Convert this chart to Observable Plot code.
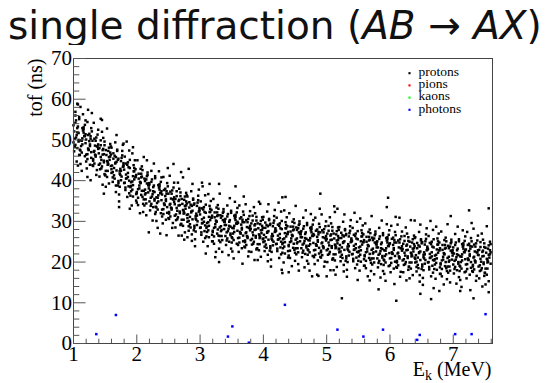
<!DOCTYPE html>
<html><head><meta charset="utf-8">
<script src="https://cdn.jsdelivr.net/npm/d3@7"></script>
<script src="https://cdn.jsdelivr.net/npm/@observablehq/plot@0.6"></script>
<style>
body{margin:0;background:#fff;}
#wrap{position:relative;width:550px;height:383px;overflow:hidden;background:#fff;}
#title{position:absolute;left:0;top:0;width:550px;height:45px;}
#tt{position:absolute;left:8px;top:2px;font-family:"DejaVu Sans",sans-serif;font-size:38px;line-height:normal;color:#111;white-space:nowrap;}
#tt i{font-style:italic;}
#chart{position:absolute;left:0;top:45px;}
</style></head>
<body><div id="wrap"><div id="title"><span id="tt"></span></div><div id="chart"></div></div>
<script>
// ---- text ----
const titleParts = ["single diffraction (", "AB", " \u2192 ", "AX", ")"];
const yTitle = "tof (ns)";
const xTitleMain = "E", xTitleSub = "k", xTitleUnit = " (MeV)";
const legendLabels = ["protons", "pions", "kaons", "photons"];
const legendColors = ["#000000", "#ff0000", "#00ff00", "#0000ff"];
const xTickLabels = [1, 2, 3, 4, 5, 6, 7];
const yTickLabels = [0, 10, 20, 30, 40, 50, 60, 70];
const xDomain = [1, 7.62];
const yDomain = [0, 70];

// ---- data: [E_k (MeV), tof (ns)] ----
const protons = [
[1.00,53.6],[1.01,47.2],[1.01,52.1],[1.02,50.3],[1.03,56.9],[1.03,48.8],[1.04,54.8],[1.05,51.2],[1.05,44.7],[1.06,52.9],[1.06,48.0],[1.07,58.7],[1.08,49.6],[1.08,51.7],[1.09,55.6],[1.09,46.3],
[1.19,49.2],[1.18,53.7],[1.10,47.6],[1.17,51.0],[1.11,44.1],[1.16,52.6],[1.12,48.5],[1.15,56.3],[1.13,46.9],[1.14,50.4],[1.19,54.8],[1.13,42.4],[1.16,51.8],[1.11,49.9],[1.18,46.0],[1.14,52.9],
[1.25,49.7],[1.22,46.5],[1.28,52.9],[1.20,44.7],[1.26,48.5],[1.24,47.5],[1.29,56.6],[1.21,43.0],[1.27,50.9],[1.23,47.9],[1.25,51.5],[1.28,45.6],[1.22,54.4],[1.26,43.9],[1.20,50.1],[1.27,40.1],
[1.33,44.2],[1.37,48.4],[1.35,45.9],[1.39,52.5],[1.32,47.1],[1.30,49.8],[1.36,41.4],[1.38,51.3],[1.31,45.3],[1.34,48.6],[1.37,42.6],[1.32,54.2],[1.39,47.8],[1.35,46.2],[1.33,50.3],[1.31,43.6],
[1.40,46.7],[1.41,41.0],[1.41,48.0],[1.42,44.2],[1.43,49.9],[1.43,45.8],[1.44,43.0],[1.45,52.0],[1.45,43.5],[1.46,47.5],[1.46,39.0],[1.47,50.5],[1.48,44.9],[1.48,46.5],[1.49,41.6],[1.49,48.7],
[1.59,43.6],[1.58,49.0],[1.50,41.4],[1.57,45.1],[1.51,47.5],[1.56,39.3],[1.52,46.3],[1.55,44.1],[1.53,52.8],[1.54,42.4],[1.59,48.4],[1.53,40.9],[1.56,45.8],[1.51,38.5],[1.58,46.9],[1.54,44.5],
[1.65,46.1],[1.62,39.7],[1.68,44.6],[1.60,42.8],[1.66,49.4],[1.64,41.3],[1.69,47.3],[1.61,43.7],[1.67,37.2],[1.63,45.4],[1.65,40.5],[1.68,51.2],[1.62,42.1],[1.66,44.2],[1.60,48.1],[1.67,38.8],
[1.73,41.7],[1.77,46.2],[1.75,40.1],[1.79,43.5],[1.72,36.6],[1.70,45.1],[1.76,41.0],[1.78,48.8],[1.71,39.4],[1.74,42.9],[1.77,47.3],[1.72,34.9],[1.79,44.3],[1.75,42.4],[1.73,38.5],[1.71,45.4],
[1.80,42.7],[1.81,39.5],[1.81,45.9],[1.82,37.7],[1.83,41.5],[1.83,40.5],[1.84,49.6],[1.85,36.0],[1.85,43.9],[1.86,40.9],[1.86,44.5],[1.87,38.6],[1.88,47.4],[1.88,36.9],[1.89,43.1],[1.89,33.1],
[1.99,36.7],[1.98,40.9],[1.90,38.4],[1.97,45.0],[1.91,39.6],[1.96,42.3],[1.92,33.9],[1.95,43.8],[1.93,37.8],[1.94,41.1],[1.99,35.1],[1.93,46.7],[1.96,40.3],[1.91,38.7],[1.98,42.8],[1.94,36.1],
[2.05,39.7],[2.02,34.0],[2.08,41.0],[2.00,37.2],[2.06,42.9],[2.04,38.8],[2.09,36.0],[2.01,45.0],[2.07,36.5],[2.03,40.5],[2.05,32.0],[2.08,43.5],[2.02,37.9],[2.06,39.5],[2.00,34.6],[2.07,41.7],
[2.13,36.6],[2.17,42.0],[2.15,34.4],[2.19,38.1],[2.12,40.5],[2.10,32.3],[2.16,39.3],[2.18,37.1],[2.11,45.8],[2.14,35.4],[2.17,41.4],[2.12,33.9],[2.19,38.8],[2.15,31.5],[2.13,39.9],[2.11,37.5],
[2.20,39.1],[2.21,32.7],[2.21,37.6],[2.22,35.8],[2.23,42.4],[2.23,34.3],[2.24,40.3],[2.25,36.7],[2.25,30.2],[2.26,38.4],[2.26,33.5],[2.27,44.2],[2.28,35.1],[2.28,37.2],[2.29,41.1],[2.29,31.8],
[2.39,35.2],[2.38,39.7],[2.30,33.6],[2.37,37.0],[2.31,30.1],[2.36,38.6],[2.32,34.5],[2.35,42.3],[2.33,32.9],[2.34,36.4],[2.39,40.8],[2.33,28.4],[2.36,37.8],[2.31,35.9],[2.38,32.0],[2.34,38.9],
[2.45,36.2],[2.42,33.0],[2.48,39.4],[2.40,31.2],[2.46,35.0],[2.44,34.0],[2.49,43.1],[2.41,29.5],[2.47,37.4],[2.43,34.4],[2.45,38.0],[2.48,32.1],[2.42,40.9],[2.46,30.4],[2.40,36.6],[2.47,26.6],
[2.53,31.2],[2.57,35.4],[2.55,32.9],[2.59,39.5],[2.52,34.1],[2.50,36.8],[2.56,28.4],[2.58,38.3],[2.51,32.3],[2.54,35.6],[2.57,29.6],[2.52,41.2],[2.59,34.8],[2.55,33.2],[2.53,37.3],[2.51,30.6],
[2.60,34.2],[2.61,28.5],[2.61,35.5],[2.62,31.7],[2.63,37.4],[2.63,33.3],[2.64,30.5],[2.65,39.5],[2.65,31.0],[2.66,35.0],[2.66,26.5],[2.67,38.0],[2.68,32.4],[2.68,34.0],[2.69,29.1],[2.69,36.2],
[2.79,31.6],[2.78,37.0],[2.70,29.4],[2.77,33.1],[2.71,35.5],[2.76,27.3],[2.72,34.3],[2.75,32.1],[2.73,40.8],[2.74,30.4],[2.79,36.4],[2.73,28.9],[2.76,33.8],[2.71,26.5],[2.78,34.9],[2.74,32.5],
[2.85,34.1],[2.82,27.7],[2.88,32.6],[2.80,30.8],[2.86,37.4],[2.84,29.3],[2.89,35.3],[2.81,31.7],[2.87,25.2],[2.83,33.4],[2.85,28.5],[2.88,39.2],[2.82,30.1],[2.86,32.2],[2.80,36.1],[2.87,26.8],
[2.93,30.7],[2.97,35.2],[2.95,29.1],[2.99,32.5],[2.92,25.6],[2.90,34.1],[2.96,30.0],[2.98,37.8],[2.91,28.4],[2.94,31.9],[2.97,36.3],[2.92,23.9],[2.99,33.3],[2.95,31.4],[2.93,27.5],[2.91,34.4],
[3.00,31.7],[3.01,28.5],[3.01,34.9],[3.02,26.7],[3.03,30.5],[3.03,29.5],[3.04,38.6],[3.05,25.0],[3.05,32.9],[3.06,29.9],[3.06,33.5],[3.07,27.6],[3.08,36.4],[3.08,25.9],[3.09,32.1],[3.09,22.1],
[3.19,26.7],[3.18,30.9],[3.10,28.4],[3.17,35.0],[3.11,29.6],[3.16,32.3],[3.12,23.9],[3.15,33.8],[3.13,27.8],[3.14,31.1],[3.19,25.1],[3.13,36.7],[3.16,30.3],[3.11,28.7],[3.18,32.8],[3.14,26.1],
[3.25,30.2],[3.22,24.5],[3.28,31.5],[3.20,27.7],[3.26,33.4],[3.24,29.3],[3.29,26.5],[3.21,35.5],[3.27,27.0],[3.23,31.0],[3.25,22.5],[3.28,34.0],[3.22,28.4],[3.26,30.0],[3.20,25.1],[3.27,32.2],
[3.33,27.6],[3.37,33.0],[3.35,25.4],[3.39,29.1],[3.32,31.5],[3.30,23.3],[3.36,30.3],[3.38,28.1],[3.31,36.8],[3.34,26.4],[3.37,32.4],[3.32,24.9],[3.39,29.8],[3.35,22.5],[3.33,30.9],[3.31,28.5],
[3.40,30.6],[3.41,24.2],[3.41,29.1],[3.42,27.3],[3.43,33.9],[3.43,25.8],[3.44,31.8],[3.45,28.2],[3.45,21.7],[3.46,29.9],[3.46,25.0],[3.47,35.7],[3.48,26.6],[3.48,28.7],[3.49,32.6],[3.49,23.3],
[3.59,27.7],[3.58,32.2],[3.50,26.1],[3.57,29.5],[3.51,22.6],[3.56,31.1],[3.52,27.0],[3.55,34.8],[3.53,25.4],[3.54,28.9],[3.59,33.3],[3.53,20.9],[3.56,30.3],[3.51,28.4],[3.58,24.5],[3.54,31.4],
[3.65,29.2],[3.62,26.0],[3.68,32.4],[3.60,24.2],[3.66,28.0],[3.64,27.0],[3.69,36.1],[3.61,22.5],[3.67,30.4],[3.63,27.4],[3.65,31.0],[3.68,25.1],[3.62,33.9],[3.66,23.4],[3.60,29.6],[3.67,19.6],
[3.73,24.2],[3.77,28.4],[3.75,25.9],[3.79,32.5],[3.72,27.1],[3.70,29.8],[3.76,21.4],[3.78,31.3],[3.71,25.3],[3.74,28.6],[3.77,22.6],[3.72,34.2],[3.79,27.8],[3.75,26.2],[3.73,30.3],[3.71,23.6],
[3.80,28.2],[3.81,22.5],[3.81,29.5],[3.82,25.7],[3.83,31.4],[3.83,27.3],[3.84,24.5],[3.85,33.5],[3.85,25.0],[3.86,29.0],[3.86,20.5],[3.87,32.0],[3.88,26.4],[3.88,28.0],[3.89,23.1],[3.89,30.2],
[3.99,25.6],[3.98,31.0],[3.90,23.4],[3.97,27.1],[3.91,29.5],[3.96,21.3],[3.92,28.3],[3.95,26.1],[3.93,34.8],[3.94,24.4],[3.99,30.4],[3.93,22.9],[3.96,27.8],[3.91,20.5],[3.98,28.9],[3.94,26.5],
[4.05,29.1],[4.02,22.7],[4.08,27.6],[4.00,25.8],[4.06,32.4],[4.04,24.3],[4.09,30.3],[4.01,26.7],[4.07,20.2],[4.03,28.4],[4.05,23.5],[4.08,34.2],[4.02,25.1],[4.06,27.2],[4.00,31.1],[4.07,21.8],
[4.13,25.7],[4.17,30.2],[4.15,24.1],[4.19,27.5],[4.12,20.6],[4.10,29.1],[4.16,25.0],[4.18,32.8],[4.11,23.4],[4.14,26.9],[4.17,31.3],[4.12,18.9],[4.19,28.3],[4.15,26.4],[4.13,22.5],[4.11,29.4],
[4.20,27.7],[4.21,24.5],[4.21,30.9],[4.22,22.7],[4.23,26.5],[4.23,25.5],[4.24,34.6],[4.25,21.0],[4.25,28.9],[4.26,25.9],[4.26,29.5],[4.27,23.6],[4.28,32.4],[4.28,21.9],[4.29,28.1],[4.29,18.1],
[4.39,22.7],[4.38,26.9],[4.30,24.4],[4.37,31.0],[4.31,25.6],[4.36,28.3],[4.32,19.9],[4.35,29.8],[4.33,23.8],[4.34,27.1],[4.39,21.1],[4.33,32.7],[4.36,26.3],[4.31,24.7],[4.38,28.8],[4.34,22.1],
[4.45,26.7],[4.42,21.0],[4.48,28.0],[4.40,24.2],[4.46,29.9],[4.44,25.8],[4.49,23.0],[4.41,32.0],[4.47,23.5],[4.43,27.5],[4.45,19.0],[4.48,30.5],[4.42,24.9],[4.46,26.5],[4.40,21.6],[4.47,28.7],
[4.53,24.6],[4.57,30.0],[4.55,22.4],[4.59,26.1],[4.52,28.5],[4.50,20.3],[4.56,27.3],[4.58,25.1],[4.51,33.8],[4.54,23.4],[4.57,29.4],[4.52,21.9],[4.59,26.8],[4.55,19.5],[4.53,27.9],[4.51,25.5],
[4.60,27.6],[4.61,21.2],[4.61,26.1],[4.62,24.3],[4.63,30.9],[4.63,22.8],[4.64,28.8],[4.65,25.2],[4.65,18.7],[4.66,26.9],[4.66,22.0],[4.67,32.7],[4.68,23.6],[4.68,25.7],[4.69,29.6],[4.69,20.3],
[4.79,24.7],[4.78,29.2],[4.70,23.1],[4.77,26.5],[4.71,19.6],[4.76,28.1],[4.72,24.0],[4.75,31.8],[4.73,22.4],[4.74,25.9],[4.79,30.3],[4.73,17.9],[4.76,27.3],[4.71,25.4],[4.78,21.5],[4.74,28.4],
[4.85,26.2],[4.82,23.0],[4.88,29.4],[4.80,21.2],[4.86,25.0],[4.84,24.0],[4.89,33.1],[4.81,19.5],[4.87,27.4],[4.83,24.4],[4.85,28.0],[4.88,22.1],[4.82,30.9],[4.86,20.4],[4.80,26.6],[4.87,16.6],
[4.93,21.7],[4.97,25.9],[4.95,23.4],[4.99,30.0],[4.92,24.6],[4.90,27.3],[4.96,18.9],[4.98,28.8],[4.91,22.8],[4.94,26.1],[4.97,20.1],[4.92,31.7],[4.99,25.3],[4.95,23.7],[4.93,27.8],[4.91,21.1],
[5.00,25.7],[5.01,20.0],[5.01,27.0],[5.02,23.2],[5.03,28.9],[5.03,24.8],[5.04,22.0],[5.05,31.0],[5.05,22.5],[5.06,26.5],[5.06,18.0],[5.07,29.5],[5.08,23.9],[5.08,25.5],[5.09,20.6],[5.09,27.7],
[5.19,23.1],[5.18,28.5],[5.10,20.9],[5.17,24.6],[5.11,27.0],[5.16,18.8],[5.12,25.8],[5.15,23.6],[5.13,32.3],[5.14,21.9],[5.19,27.9],[5.13,20.4],[5.16,25.3],[5.11,18.0],[5.18,26.4],[5.14,24.0],
[5.25,26.6],[5.22,20.2],[5.28,25.1],[5.20,23.3],[5.26,29.9],[5.24,21.8],[5.29,27.8],[5.21,24.2],[5.27,17.7],[5.23,25.9],[5.25,21.0],[5.28,31.7],[5.22,22.6],[5.26,24.7],[5.20,28.6],[5.27,19.3],
[5.33,23.2],[5.37,27.7],[5.35,21.6],[5.39,25.0],[5.32,18.1],[5.30,26.6],[5.36,22.5],[5.38,30.3],[5.31,20.9],[5.34,24.4],[5.37,28.8],[5.32,16.4],[5.39,25.8],[5.35,23.9],[5.33,20.0],[5.31,26.9],
[5.40,25.2],[5.41,22.0],[5.41,28.4],[5.42,20.2],[5.43,24.0],[5.43,23.0],[5.44,32.1],[5.45,18.5],[5.45,26.4],[5.46,23.4],[5.46,27.0],[5.47,21.1],[5.48,29.9],[5.48,19.4],[5.49,25.6],[5.49,15.6],
[5.59,20.7],[5.58,24.9],[5.50,22.4],[5.57,29.0],[5.51,23.6],[5.56,26.3],[5.52,17.9],[5.55,27.8],[5.53,21.8],[5.54,25.1],[5.59,19.1],[5.53,30.7],[5.56,24.3],[5.51,22.7],[5.58,26.8],[5.54,20.1],
[5.65,24.2],[5.62,18.5],[5.68,25.5],[5.60,21.7],[5.66,27.4],[5.64,23.3],[5.69,20.5],[5.61,29.5],[5.67,21.0],[5.63,25.0],[5.65,16.5],[5.68,28.0],[5.62,22.4],[5.66,24.0],[5.60,19.1],[5.67,26.2],
[5.73,22.1],[5.77,27.5],[5.75,19.9],[5.79,23.6],[5.72,26.0],[5.70,17.8],[5.76,24.8],[5.78,22.6],[5.71,31.3],[5.74,20.9],[5.77,26.9],[5.72,19.4],[5.79,24.3],[5.75,17.0],[5.73,25.4],[5.71,23.0],
[5.80,25.1],[5.81,18.7],[5.81,23.6],[5.82,21.8],[5.83,28.4],[5.83,20.3],[5.84,26.3],[5.85,22.7],[5.85,16.2],[5.86,24.4],[5.86,19.5],[5.87,30.2],[5.88,21.1],[5.88,23.2],[5.89,27.1],[5.89,17.8],
[5.99,22.2],[5.98,26.7],[5.90,20.6],[5.97,24.0],[5.91,17.1],[5.96,25.6],[5.92,21.5],[5.95,29.3],[5.93,19.9],[5.94,23.4],[5.99,27.8],[5.93,15.4],[5.96,24.8],[5.91,22.9],[5.98,19.0],[5.94,25.9],
[6.05,24.2],[6.02,21.0],[6.08,27.4],[6.00,19.2],[6.06,23.0],[6.04,22.0],[6.09,31.1],[6.01,17.5],[6.07,25.4],[6.03,22.4],[6.05,26.0],[6.08,20.1],[6.02,28.9],[6.06,18.4],[6.00,24.6],[6.07,14.6],
[6.13,19.2],[6.17,23.4],[6.15,20.9],[6.19,27.5],[6.12,22.1],[6.10,24.8],[6.16,16.4],[6.18,26.3],[6.11,20.3],[6.14,23.6],[6.17,17.6],[6.12,29.2],[6.19,22.8],[6.15,21.2],[6.13,25.3],[6.11,18.6],
[6.20,23.2],[6.21,17.5],[6.21,24.5],[6.22,20.7],[6.23,26.4],[6.23,22.3],[6.24,19.5],[6.25,28.5],[6.25,20.0],[6.26,24.0],[6.26,15.5],[6.27,27.0],[6.28,21.4],[6.28,23.0],[6.29,18.1],[6.29,25.2],
[6.39,21.1],[6.38,26.5],[6.30,18.9],[6.37,22.6],[6.31,25.0],[6.36,16.8],[6.32,23.8],[6.35,21.6],[6.33,30.3],[6.34,19.9],[6.39,25.9],[6.33,18.4],[6.36,23.3],[6.31,16.0],[6.38,24.4],[6.34,22.0],
[6.45,24.1],[6.42,17.7],[6.48,22.6],[6.40,20.8],[6.46,27.4],[6.44,19.3],[6.49,25.3],[6.41,21.7],[6.47,15.2],[6.43,23.4],[6.45,18.5],[6.48,29.2],[6.42,20.1],[6.46,22.2],[6.40,26.1],[6.47,16.8],
[6.53,21.2],[6.57,25.7],[6.55,19.6],[6.59,23.0],[6.52,16.1],[6.50,24.6],[6.56,20.5],[6.58,28.3],[6.51,18.9],[6.54,22.4],[6.57,26.8],[6.52,14.4],[6.59,23.8],[6.55,21.9],[6.53,18.0],[6.51,24.9],
[6.60,23.2],[6.61,20.0],[6.61,26.4],[6.62,18.2],[6.63,22.0],[6.63,21.0],[6.64,30.1],[6.65,16.5],[6.65,24.4],[6.66,21.4],[6.66,25.0],[6.67,19.1],[6.68,27.9],[6.68,17.4],[6.69,23.6],[6.69,13.6],
[6.79,18.7],[6.78,22.9],[6.70,20.4],[6.77,27.0],[6.71,21.6],[6.76,24.3],[6.72,15.9],[6.75,25.8],[6.73,19.8],[6.74,23.1],[6.79,17.1],[6.73,28.7],[6.76,22.3],[6.71,20.7],[6.78,24.8],[6.74,18.1],
[6.85,22.2],[6.82,16.5],[6.88,23.5],[6.80,19.7],[6.86,25.4],[6.84,21.3],[6.89,18.5],[6.81,27.5],[6.87,19.0],[6.83,23.0],[6.85,14.5],[6.88,26.0],[6.82,20.4],[6.86,22.0],[6.80,17.1],[6.87,24.2],
[6.93,20.1],[6.97,25.5],[6.95,17.9],[6.99,21.6],[6.92,24.0],[6.90,15.8],[6.96,22.8],[6.98,20.6],[6.91,29.3],[6.94,18.9],[6.97,24.9],[6.92,17.4],[6.99,22.3],[6.95,15.0],[6.93,23.4],[6.91,21.0],
[7.00,23.6],[7.01,17.2],[7.01,22.1],[7.02,20.3],[7.03,26.9],[7.03,18.8],[7.04,24.8],[7.05,21.2],[7.05,14.7],[7.06,22.9],[7.06,18.0],[7.07,28.7],[7.08,19.6],[7.08,21.7],[7.09,25.6],[7.09,16.3],
[7.19,20.7],[7.18,25.2],[7.10,19.1],[7.17,22.5],[7.11,15.6],[7.16,24.1],[7.12,20.0],[7.15,27.8],[7.13,18.4],[7.14,21.9],[7.19,26.3],[7.13,13.9],[7.16,23.3],[7.11,21.4],[7.18,17.5],[7.14,24.4],
[7.25,22.7],[7.22,19.5],[7.28,25.9],[7.20,17.7],[7.26,21.5],[7.24,20.5],[7.29,29.6],[7.21,16.0],[7.27,23.9],[7.23,20.9],[7.25,24.5],[7.28,18.6],[7.22,27.4],[7.26,16.9],[7.20,23.1],[7.27,13.1],
[7.33,18.2],[7.37,22.4],[7.35,19.9],[7.39,26.5],[7.32,21.1],[7.30,23.8],[7.36,15.4],[7.38,25.3],[7.31,19.3],[7.34,22.6],[7.37,16.6],[7.32,28.2],[7.39,21.8],[7.35,20.2],[7.33,24.3],[7.31,17.6],
[7.40,21.7],[7.41,16.0],[7.41,23.0],[7.42,19.2],[7.43,24.9],[7.43,20.8],[7.44,18.0],[7.45,27.0],[7.45,18.5],[7.46,22.5],[7.46,14.0],[7.47,25.5],[7.48,19.9],[7.48,21.5],[7.49,16.6],[7.49,23.7],
[7.59,19.6],[7.58,25.0],[7.50,17.4],[7.57,21.1],[7.51,23.5],[7.56,15.3],[7.52,22.3],[7.55,20.1],[7.53,28.8],[7.54,18.4],[7.59,24.4],[7.53,16.9],[7.56,21.8],[7.51,14.5],[7.58,22.9],[7.54,20.5],
// dense core
[1.02,48.3],[1.07,53.3],[1.04,50.6],[1.09,55.1],[1.00,49.4],[1.06,51.9],[1.03,54.2],[1.08,50.0],
[1.15,52.3],[1.11,47.4],[1.18,50.9],[1.13,49.8],[1.16,53.1],[1.10,46.3],[1.19,51.4],[1.14,48.9],
[1.22,45.3],[1.27,50.3],[1.24,47.6],[1.29,52.1],[1.20,46.4],[1.26,48.9],[1.23,51.2],[1.28,47.0],
[1.35,49.8],[1.31,44.9],[1.38,48.4],[1.33,47.3],[1.36,50.6],[1.30,43.8],[1.39,48.9],[1.34,46.4],
[1.42,42.8],[1.47,47.8],[1.44,45.1],[1.49,49.6],[1.40,43.9],[1.46,46.4],[1.43,48.7],[1.48,44.5],
[1.55,47.3],[1.51,42.4],[1.58,45.9],[1.53,44.8],[1.56,48.1],[1.50,41.3],[1.59,46.4],[1.54,43.9],
[1.62,40.8],[1.67,45.8],[1.64,43.1],[1.69,47.6],[1.60,41.9],[1.66,44.4],[1.63,46.7],[1.68,42.5],
[1.75,44.8],[1.71,39.9],[1.78,43.4],[1.73,42.3],[1.76,45.6],[1.70,38.8],[1.79,43.9],[1.74,41.4],
[1.82,38.3],[1.87,43.3],[1.84,40.6],[1.89,45.1],[1.80,39.4],[1.86,41.9],[1.83,44.2],[1.88,40.0],
[1.95,42.3],[1.91,37.4],[1.98,40.9],[1.93,39.8],[1.96,43.1],[1.90,36.3],[1.99,41.4],[1.94,38.9],
[2.02,35.8],[2.07,40.8],[2.04,38.1],[2.09,42.6],[2.00,36.9],[2.06,39.4],[2.03,41.7],[2.08,37.5],
[2.15,40.3],[2.11,35.4],[2.18,38.9],[2.13,37.8],[2.16,41.1],[2.10,34.3],[2.19,39.4],[2.14,36.9],
[2.22,33.8],[2.27,38.8],[2.24,36.1],[2.29,40.6],[2.20,34.9],[2.26,37.4],[2.23,39.7],[2.28,35.5],
[2.35,38.3],[2.31,33.4],[2.38,36.9],[2.33,35.8],[2.36,39.1],[2.30,32.3],[2.39,37.4],[2.34,34.9],
[2.42,31.8],[2.47,36.8],[2.44,34.1],[2.49,38.6],[2.40,32.9],[2.46,35.4],[2.43,37.7],[2.48,33.5],
[2.55,36.8],[2.51,31.9],[2.58,35.4],[2.53,34.3],[2.56,37.6],[2.50,30.8],[2.59,35.9],[2.54,33.4],
[2.62,30.3],[2.67,35.3],[2.64,32.6],[2.69,37.1],[2.60,31.4],[2.66,33.9],[2.63,36.2],[2.68,32.0],
[2.75,35.3],[2.71,30.4],[2.78,33.9],[2.73,32.8],[2.76,36.1],[2.70,29.3],[2.79,34.4],[2.74,31.9],
[2.82,28.8],[2.87,33.8],[2.84,31.1],[2.89,35.6],[2.80,29.9],[2.86,32.4],[2.83,34.7],[2.88,30.5],
[2.95,33.8],[2.91,28.9],[2.98,32.4],[2.93,31.3],[2.96,34.6],[2.90,27.8],[2.99,32.9],[2.94,30.4],
[3.02,27.3],[3.07,32.3],[3.04,29.6],[3.09,34.1],[3.00,28.4],[3.06,30.9],[3.03,33.2],[3.08,29.0],
[3.15,32.3],[3.11,27.4],[3.18,30.9],[3.13,29.8],[3.16,33.1],[3.10,26.3],[3.19,31.4],[3.14,28.9],
[3.22,26.3],[3.27,31.3],[3.24,28.6],[3.29,33.1],[3.20,27.4],[3.26,29.9],[3.23,32.2],[3.28,28.0],
[3.35,31.3],[3.31,26.4],[3.38,29.9],[3.33,28.8],[3.36,32.1],[3.30,25.3],[3.39,30.4],[3.34,27.9],
[3.42,25.3],[3.47,30.3],[3.44,27.6],[3.49,32.1],[3.40,26.4],[3.46,28.9],[3.43,31.2],[3.48,27.0],
[3.55,30.8],[3.51,25.9],[3.58,29.4],[3.53,28.3],[3.56,31.6],[3.50,24.8],[3.59,29.9],[3.54,27.4],
[3.62,24.8],[3.67,29.8],[3.64,27.1],[3.69,31.6],[3.60,25.9],[3.66,28.4],[3.63,30.7],[3.68,26.5],
[3.75,29.8],[3.71,24.9],[3.78,28.4],[3.73,27.3],[3.76,30.6],[3.70,23.8],[3.79,28.9],[3.74,26.4],
[3.82,24.3],[3.87,29.3],[3.84,26.6],[3.89,31.1],[3.80,25.4],[3.86,27.9],[3.83,30.2],[3.88,26.0],
[3.95,29.3],[3.91,24.4],[3.98,27.9],[3.93,26.8],[3.96,30.1],[3.90,23.3],[3.99,28.4],[3.94,25.9],
[4.02,23.8],[4.07,28.8],[4.04,26.1],[4.09,30.6],[4.00,24.9],[4.06,27.4],[4.03,29.7],[4.08,25.5],
[4.15,28.8],[4.11,23.9],[4.18,27.4],[4.13,26.3],[4.16,29.6],[4.10,22.8],[4.19,27.9],[4.14,25.4],
[4.22,23.3],[4.27,28.3],[4.24,25.6],[4.29,30.1],[4.20,24.4],[4.26,26.9],[4.23,29.2],[4.28,25.0],
[4.35,28.3],[4.31,23.4],[4.38,26.9],[4.33,25.8],[4.36,29.1],[4.30,22.3],[4.39,27.4],[4.34,24.9],
[4.42,22.8],[4.47,27.8],[4.44,25.1],[4.49,29.6],[4.40,23.9],[4.46,26.4],[4.43,28.7],[4.48,24.5],
[4.55,28.3],[4.51,23.4],[4.58,26.9],[4.53,25.8],[4.56,29.1],[4.50,22.3],[4.59,27.4],[4.54,24.9],
[4.62,22.3],[4.67,27.3],[4.64,24.6],[4.69,29.1],[4.60,23.4],[4.66,25.9],[4.63,28.2],[4.68,24.0],
[4.75,27.8],[4.71,22.9],[4.78,26.4],[4.73,25.3],[4.76,28.6],[4.70,21.8],[4.79,26.9],[4.74,24.4],
[4.82,21.8],[4.87,26.8],[4.84,24.1],[4.89,28.6],[4.80,22.9],[4.86,25.4],[4.83,27.7],[4.88,23.5],
[4.95,27.3],[4.91,22.4],[4.98,25.9],[4.93,24.8],[4.96,28.1],[4.90,21.3],[4.99,26.4],[4.94,23.9],
[5.02,21.8],[5.07,26.8],[5.04,24.1],[5.09,28.6],[5.00,22.9],[5.06,25.4],[5.03,27.7],[5.08,23.5],
[5.15,26.8],[5.11,21.9],[5.18,25.4],[5.13,24.3],[5.16,27.6],[5.10,20.8],[5.19,25.9],[5.14,23.4],
[5.22,21.3],[5.27,26.3],[5.24,23.6],[5.29,28.1],[5.20,22.4],[5.26,24.9],[5.23,27.2],[5.28,23.0],
[5.35,26.3],[5.31,21.4],[5.38,24.9],[5.33,23.8],[5.36,27.1],[5.30,20.3],[5.39,25.4],[5.34,22.9],
[5.42,20.8],[5.47,25.8],[5.44,23.1],[5.49,27.6],[5.40,21.9],[5.46,24.4],[5.43,26.7],[5.48,22.5],
[5.55,26.3],[5.51,21.4],[5.58,24.9],[5.53,23.8],[5.56,27.1],[5.50,20.3],[5.59,25.4],[5.54,22.9],
[5.62,20.3],[5.67,25.3],[5.64,22.6],[5.69,27.1],[5.60,21.4],[5.66,23.9],[5.63,26.2],[5.68,22.0],
[5.75,25.8],[5.71,20.9],[5.78,24.4],[5.73,23.3],[5.76,26.6],[5.70,19.8],[5.79,24.9],[5.74,22.4],
[5.82,19.8],[5.87,24.8],[5.84,22.1],[5.89,26.6],[5.80,20.9],[5.86,23.4],[5.83,25.7],[5.88,21.5],
[5.95,25.3],[5.91,20.4],[5.98,23.9],[5.93,22.8],[5.96,26.1],[5.90,19.3],[5.99,24.4],[5.94,21.9],
[6.02,19.8],[6.07,24.8],[6.04,22.1],[6.09,26.6],[6.00,20.9],[6.06,23.4],[6.03,25.7],[6.08,21.5],
[6.15,24.8],[6.11,19.9],[6.18,23.4],[6.13,22.3],[6.16,25.6],[6.10,18.8],[6.19,23.9],[6.14,21.4],
[6.22,19.3],[6.27,24.3],[6.24,21.6],[6.29,26.1],[6.20,20.4],[6.26,22.9],[6.23,25.2],[6.28,21.0],
[6.35,24.8],[6.31,19.9],[6.38,23.4],[6.33,22.3],[6.36,25.6],[6.30,18.8],[6.39,23.9],[6.34,21.4],
[6.42,18.8],[6.47,23.8],[6.44,21.1],[6.49,25.6],[6.40,19.9],[6.46,22.4],[6.43,24.7],[6.48,20.5],
[6.55,24.3],[6.51,19.4],[6.58,22.9],[6.53,21.8],[6.56,25.1],[6.50,18.3],[6.59,23.4],[6.54,20.9],
[6.62,18.8],[6.67,23.8],[6.64,21.1],[6.69,25.6],[6.60,19.9],[6.66,22.4],[6.63,24.7],[6.68,20.5],
[6.75,24.3],[6.71,19.4],[6.78,22.9],[6.73,21.8],[6.76,25.1],[6.70,18.3],[6.79,23.4],[6.74,20.9],
[6.82,18.3],[6.87,23.3],[6.84,20.6],[6.89,25.1],[6.80,19.4],[6.86,21.9],[6.83,24.2],[6.88,20.0],
[6.95,23.8],[6.91,18.9],[6.98,22.4],[6.93,21.3],[6.96,24.6],[6.90,17.8],[6.99,22.9],[6.94,20.4],
[7.02,18.3],[7.07,23.3],[7.04,20.6],[7.09,25.1],[7.00,19.4],[7.06,21.9],[7.03,24.2],[7.08,20.0],
[7.15,23.8],[7.11,18.9],[7.18,22.4],[7.13,21.3],[7.16,24.6],[7.10,17.8],[7.19,22.9],[7.14,20.4],
[7.22,18.3],[7.27,23.3],[7.24,20.6],[7.29,25.1],[7.20,19.4],[7.26,21.9],[7.23,24.2],[7.28,20.0],
[7.35,23.8],[7.31,18.9],[7.38,22.4],[7.33,21.3],[7.36,24.6],[7.30,17.8],[7.39,22.9],[7.34,20.4],
[7.42,17.8],[7.47,22.8],[7.44,20.1],[7.49,24.6],[7.40,18.9],[7.46,21.4],[7.43,23.7],[7.48,19.5],
[7.55,23.3],[7.51,18.4],[7.58,21.9],[7.53,20.8],[7.56,24.1],[7.50,17.3],[7.59,22.4],[7.54,19.9],
// outliers / edge points
[1.06,58.9],[1.11,58.1],[1.03,56.0],[1.23,57.4],[1.07,43.7],[1.22,40.9],[1.43,55.2],[1.45,54.9],[1.48,36.8],[1.72,33.5],
[1.79,49.1],[1.94,48.2],[2.16,45.0],[2.58,44.1],[2.70,42.1],[2.82,42.9],[2.19,27.3],[2.37,27.0],[2.80,26.1],[2.75,25.5],
[3.03,39.5],[3.15,39.2],[3.30,39.2],[3.56,38.6],[3.95,34.3],[4.30,35.9],[4.35,36.0],[4.90,36.8],[5.12,33.7],[5.17,33.1],
[3.30,20.0],[3.24,21.2],[4.30,17.3],[4.40,17.5],[4.56,17.9],[4.77,16.5],[4.85,16.9],[5.00,16.5],[5.14,16.9],[5.24,11.1],
[5.68,15.5],[5.82,13.3],[5.95,33.5],[5.97,35.8],[6.10,10.5],[6.15,30.9],[6.39,30.2],[6.48,12.2],[6.65,10.9],[6.78,12.9],
[6.96,31.3],[7.11,12.9],[7.25,32.7],[7.32,11.1],[7.56,33.2],[7.56,12.6]
];
const pions = [];
const kaons = [];
const photons = [
[1.36,2.3],[1.67,7.0],[3.44,1.7],[3.51,4.2],[3.77,0.2],[4.34,9.5],[5.17,3.4],[5.58,1.7],
[5.89,3.4],[6.43,0.9],[6.47,2.1],[7.03,2.3],[7.29,2.3],[7.51,7.2]
];

// ---- title: sized so that it spans the reference width ----
const tt = document.getElementById("tt");
titleParts.forEach((p, i) => {
  const el = document.createElement(i === 1 || i === 3 ? "i" : "span");
  el.textContent = p;
  tt.appendChild(el);
});
const fs0 = 38;
const tw = tt.getBoundingClientRect().width;
const fs = fs0 * 534 / tw;
tt.style.fontSize = fs + "px";
tt.style.top = Math.max(0, 39 - 0.928 * fs) + "px";

// ---- chart ----
const xMinor = d3.range(6, 39).filter(i => i % 5 !== 0).map(i => i / 5);
const yMinor = d3.range(0, 71, 2).filter(v => v % 10 !== 0);
const serif = '"Liberation Serif", "Times New Roman", serif';
const dotOpts = {x: d => d[0], y: d => d[1], symbol: "square", r: 1.4, stroke: "none"};

const legendMarks = legendLabels.flatMap((lab, i) => [
  Plot.dot([lab], {frameAnchor: "top-right", dx: -83, dy: 14.7 + 12.2 * i, symbol: "square", r: 1.2, fill: legendColors[i], stroke: "none"}),
  Plot.text([lab], {frameAnchor: "top-right", dx: -74, dy: 17.5 + 12.2 * i, textAnchor: "start", lineAnchor: "bottom", fontSize: 13.5, fontFamily: serif, fill: "#000"})
]);

const chart = Plot.plot({
  width: 550, height: 338,
  marginLeft: 73, marginRight: 58, marginTop: 13, marginBottom: 40,
  x: {domain: xDomain},
  y: {domain: yDomain},
  style: {fontFamily: serif, background: "white", color: "#000"},
  marks: [
    Plot.dot(protons, {...dotOpts, fill: legendColors[0]}),
    Plot.dot(pions, {...dotOpts, fill: legendColors[1]}),
    Plot.dot(kaons, {...dotOpts, fill: legendColors[2]}),
    Plot.dot(photons, {...dotOpts, fill: legendColors[3]}),
    Plot.frame({stroke: "#444", strokeWidth: 1}),
    Plot.axisX({ticks: xTickLabels, tickSize: -8.5, tickFormat: () => "", stroke: "#555", label: null}),
    Plot.axisX({ticks: xMinor, tickSize: -4.3, tickFormat: () => "", stroke: "#555", label: null}),
    Plot.axisY({ticks: yTickLabels, tickSize: -12.6, tickFormat: () => "", stroke: "#555", label: null}),
    Plot.axisY({ticks: yMinor, tickSize: -6.3, tickFormat: () => "", stroke: "#555", label: null}),
    Plot.axisX({ticks: xTickLabels, tickSize: 0, tickPadding: 3, tickFormat: d => String(d), fontSize: 21, fill: "#000", label: null}),
    Plot.axisY({ticks: yTickLabels, tickSize: 0, tickPadding: 1.5, tickFormat: d => String(d), fontSize: 21, fill: "#000", label: null}),
    Plot.text([yTitle], {frameAnchor: "top-left", rotate: -90, textAnchor: "end", lineAnchor: "bottom", dx: -32, fontSize: 20, fill: "#000"}),
    Plot.text([xTitleMain + xTitleSub + xTitleUnit], {frameAnchor: "bottom-right", textAnchor: "end", lineAnchor: "bottom", dx: -1, dy: 32, fontSize: 20, fill: "#000"}),
    ...legendMarks
  ]
});

// subscript for E_k
d3.select(chart).selectAll("text")
  .filter(function () { return this.textContent === xTitleMain + xTitleSub + xTitleUnit; })
  .each(function () {
    const t = d3.select(this);
    t.text(null);
    t.append("tspan").text(xTitleMain);
    t.append("tspan").attr("dy", 4).attr("font-size", 14).text(xTitleSub);
    t.append("tspan").attr("dy", -4).text(xTitleUnit);
  });

document.getElementById("chart").appendChild(chart);
</script>
</body></html>
